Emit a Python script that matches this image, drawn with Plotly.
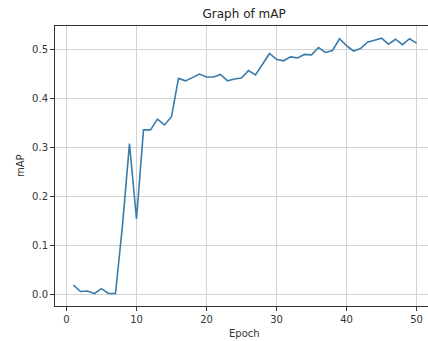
import plotly.graph_objects as go

epochs = list(range(1, 51))
map_values = [
    0.018, 0.005, 0.006, 0.001, 0.011, 0.001, 0.001, 0.14, 0.307, 0.153,
    0.335, 0.335, 0.357, 0.345, 0.362, 0.440, 0.435, 0.442, 0.449, 0.443,
    0.443, 0.448, 0.435, 0.439, 0.441, 0.456, 0.447, 0.469, 0.491, 0.479,
    0.476, 0.484, 0.482, 0.489, 0.488, 0.503, 0.493, 0.497, 0.521, 0.507,
    0.496, 0.501, 0.514, 0.518, 0.522, 0.510, 0.520, 0.509, 0.521, 0.512,
]
x_ticks = [0, 10, 20, 30, 40, 50]
y_ticks = [0.0, 0.1, 0.2, 0.3, 0.4, 0.5]

FONT = "DejaVu Sans"

fig = go.Figure()
fig.add_trace(go.Scatter(
    x=epochs, y=map_values, mode="lines",
    line=dict(color="#3a7cab", width=1.6),
    showlegend=False, hoverinfo="skip",
))

axis_common = dict(
    showgrid=True, gridcolor="#d3d3d3", gridwidth=1,
    zeroline=False,
    showline=True, linecolor="#333333", linewidth=1,
    ticks="outside", ticklen=4, tickwidth=1, tickcolor="#333333",
    tickfont=dict(family=FONT, size=10, color="#333333"),
)

fig.update_layout(
    width=428, height=341,
    margin=dict(l=55, r=0, t=26, b=35),
    paper_bgcolor="white", plot_bgcolor="white",
    font=dict(family=FONT, color="#333333"),
    title=dict(text="Graph of mAP", x=0.507, xref="paper", xanchor="center",
               y=1 - 14 / 341, yref="container", yanchor="middle",
               font=dict(family=FONT, size=12, color="#222222")),
    xaxis=dict(range=[-1.64, 51.64], tickvals=x_ticks, mirror=True, **axis_common),
    yaxis=dict(range=[-0.0245, 0.547], tickvals=y_ticks, tickformat=".1f", **axis_common),
    annotations=[
        dict(text="Epoch", x=0.507, y=0, xref="paper", yref="paper",
             xanchor="center", yanchor="middle", yshift=-27, showarrow=False,
             font=dict(family=FONT, size=10, color="#333333")),
        dict(text="mAP", x=0, y=0.5, xref="paper", yref="paper",
             xanchor="center", yanchor="middle", xshift=-35, textangle=-90,
             showarrow=False, font=dict(family=FONT, size=10, color="#333333")),
    ],
)

fig.write_html(
    "out.html",
    config={"displayModeBar": False},
    post_script="document.body.style.margin='0';document.body.style.padding='0';"
                "document.body.style.overflow='hidden';",
)
